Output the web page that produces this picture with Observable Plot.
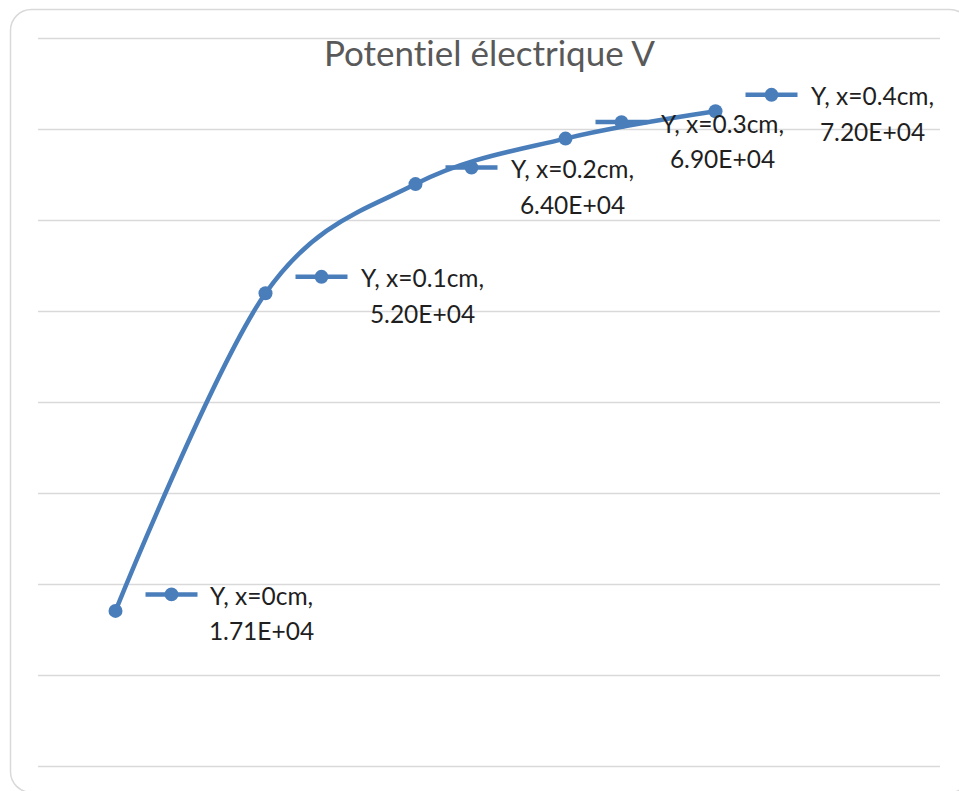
<!DOCTYPE html>
<html>
<head>
<meta charset="utf-8">
<script src="https://cdn.jsdelivr.net/npm/d3@7"></script>
<script src="https://cdn.jsdelivr.net/npm/@observablehq/plot@0.6"></script>
<style>
  html, body { margin: 0; padding: 0; background: #fff; overflow: hidden; }
  #chart svg { display: block; overflow: visible; }
  #chart svg text { font-variant-ligatures: none; font-feature-settings: "liga" 0; }
</style>
</head>
<body>
<div id="chart"></div>
<script>
const chartTitle = "Potentiel électrique V";
const xCm = [0, 0.1, 0.2, 0.3, 0.4];
const potentialV = [17100, 52000, 64000, 69000, 72000];
const positionLabels = ["Y, x=0cm,", "Y, x=0.1cm,", "Y, x=0.2cm,", "Y, x=0.3cm,", "Y, x=0.4cm,"];
const valueLabels = ["1.71E+04", "5.20E+04", "6.40E+04", "6.90E+04", "7.20E+04"];
const yTicks = [0, 10000, 20000, 30000, 40000, 50000, 60000, 70000, 80000];

const data = xCm.map((x, i) => ({
  x, y: potentialV[i], label: positionLabels[i] + "\n" + valueLabels[i]
}));

const blue = "#4A7EBB";
const font = "Lato, 'Open Sans', sans-serif";

// legend key symbol: short line with a dot in its middle
const keySymbol = {
  draw(context) {
    context.moveTo(-26, 0);
    context.lineTo(26, 0);
    context.moveTo(4.7, 0);
    context.arc(0, 0, 4.7, 0, 2 * Math.PI);
  }
};

const plot = Plot.plot({
  width: 959,
  height: 791,
  marginLeft: 38,
  marginRight: 19,
  marginTop: 38,
  marginBottom: 25,
  x: { domain: [-77 / 1500, 825 / 1500], axis: null },
  y: { domain: [0, 80000], axis: null },
  style: { fontFamily: font, background: "transparent" },
  marks: [
    Plot.frame({ stroke: "#d9d9d9", strokeWidth: 1.5, rx: 21,
      insetLeft: -28, insetRight: -30, insetTop: -29, insetBottom: -26 }),
    Plot.ruleY(yTicks, { stroke: "#d9d9d9", strokeWidth: 1.5, strokeOpacity: 1 }),
    Plot.text([chartTitle], { frameAnchor: "top", dy: 16, text: d => d,
      fontSize: 35, fill: "#595959", lineAnchor: "middle" }),
    Plot.line(data, { x: "x", y: "y", curve: "cardinal", stroke: blue, strokeWidth: 4.5 }),
    Plot.dot(data, { x: "x", y: "y", r: 7, fill: blue, stroke: "none" }),
    Plot.dot(data, { x: "x", y: "y", symbol: keySymbol, fill: blue, stroke: blue,
      strokeWidth: 4.5, dx: 56, dy: -16.5 }),
    Plot.text(data.filter((d, i) => i === 0), { x: "x", y: "y", text: "label",
      textAnchor: "middle", lineAnchor: "middle", lineHeight: 1.44,
      dx: 146, dy: 0.5, fontSize: 24.5, fill: "#1f1f1f" }),
    Plot.text(data.filter((d, i) => i > 0), { x: "x", y: "y", text: "label",
      textAnchor: "middle", lineAnchor: "middle", lineHeight: 1.44,
      dx: 157, dy: 0.5, fontSize: 24.5, fill: "#1f1f1f" })
  ]
});

document.getElementById("chart").appendChild(plot);
</script>
</body>
</html>
